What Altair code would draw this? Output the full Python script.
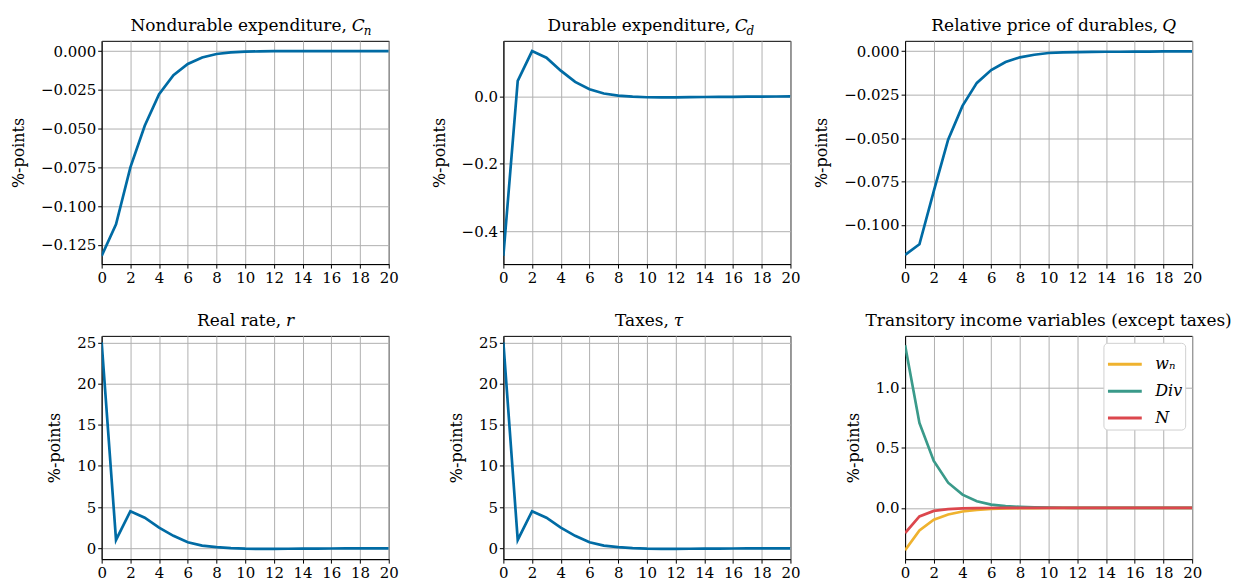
import altair as alt
import pandas as pd

# ---------------- data ----------------
t = list(range(21))

cn = [-0.1321, -0.1117, -0.0750, -0.0482, -0.0278, -0.0156, -0.0083, -0.0041,
      -0.0019, -0.0009, -0.0004, -0.0002, -0.0001, -0.0001, 0.0, 0.0, 0.0,
      0.0, 0.0, 0.0, 0.0]

cd = [-0.4727, 0.0452, 0.1337, 0.1140, 0.0757, 0.0423, 0.0206, 0.0079,
      0.0020, -0.0010, -0.0030, -0.0032, -0.0032, -0.0028, -0.0024, -0.0020,
      -0.0017, -0.0014, -0.0011, -0.0008, -0.0006]

q = [-0.1172, -0.1111, -0.0805, -0.0510, -0.0315, -0.0183, -0.0109, -0.0063,
     -0.0036, -0.0021, -0.0011, -0.0008, -0.0006, -0.0005, -0.0004, -0.0004,
     -0.0003, -0.0003, -0.0002, -0.0002, -0.0002]

r = [25.0, 1.0, 4.5, 3.7, 2.5, 1.5, 0.72, 0.32, 0.12, 0.0, -0.06, -0.08,
     -0.08, -0.07, -0.06, -0.05, -0.04, -0.03, -0.03, -0.02, -0.02]

tau = [25.0, 1.0, 4.5, 3.7, 2.5, 1.5, 0.72, 0.32, 0.12, 0.0, -0.06, -0.08,
       -0.08, -0.07, -0.06, -0.05, -0.04, -0.03, -0.03, -0.02, -0.02]

wn = [-0.352, -0.187, -0.099, -0.055, -0.030, -0.016, -0.009, -0.005, -0.003,
      -0.0015, -0.0008, -0.0004, -0.0002, -0.0001, 0.0, 0.0, 0.0, 0.0, 0.0,
      0.0, 0.0]
div = [1.352, 0.706, 0.390, 0.209, 0.110, 0.055, 0.027, 0.014, 0.008, 0.004,
       0.002, 0.001, 0.0005, 0.0002, 0.0001, 0.0, 0.0, 0.0, 0.0, 0.0, 0.0]
n_ = [-0.209, -0.071, -0.025, -0.011, -0.005, -0.002, -0.001, -0.0005,
      -0.0002, -0.0001, 0.0, 0.0, 0.0, 0.0, 0.0, 0.0, 0.0, 0.0, 0.0, 0.0, 0.0]

series_names = ["wₙ", "Div", "N"]
series_colors = ["#EFB22E", "#3A9A8A", "#DC474D"]

x_ticks = list(range(0, 21, 2))

FONT = "DejaVu Serif"
BLUE = "#006BA4"
W, H = 288, 224
TITLE_SIZE = 17
SUB_SIZE = 12


def title_marks(parts):
    marks = []
    for text, x, y, size, style, align in parts:
        marks.append(
            alt.Chart(pd.DataFrame({"s": [text]}))
            .mark_text(align=align, baseline="alphabetic", font=FONT,
                       fontSize=size, fontStyle=style, color="black")
            .encode(text="s:N", x=alt.value(x), y=alt.value(y))
        )
    return marks


def x_enc():
    return alt.X("t:Q", scale=alt.Scale(domain=[0, 20], nice=False, zero=False),
                 axis=alt.Axis(values=x_ticks, format="d", title=None,
                               labelFlush=False, labelOverlap=False))


def y_enc(domain, ticks, fmt):
    return alt.Y("v:Q", scale=alt.Scale(domain=domain, nice=False, zero=False),
                 axis=alt.Axis(values=ticks, format=fmt, title="%-points",
                               labelFlush=False))


def panel(values, domain, ticks, fmt, parts):
    df = pd.DataFrame({"t": t, "v": values})
    line = alt.Chart(df).mark_line(color=BLUE, strokeWidth=2.7, clip=True).encode(
        x=x_enc(), y=y_enc(domain, ticks, fmt))
    return alt.layer(line, *title_marks(parts)).properties(width=W, height=H)


p1 = panel(cn, [-0.1374, 0.0066], [-0.125, -0.1, -0.075, -0.05, -0.025, 0.0], ".3f",
           [("Nondurable expenditure,", 246, -10, TITLE_SIZE, "normal", "right"),
            ("C", 251, -10, TITLE_SIZE, "italic", "left"),
            ("n", 263, -6, SUB_SIZE, "italic", "left")])
p2 = panel(cd, [-0.497, 0.164], [-0.4, -0.2, 0.0], ".1f",
           [("Durable expenditure,", 228, -10, TITLE_SIZE, "normal", "right"),
            ("C", 232, -10, TITLE_SIZE, "italic", "left"),
            ("d", 244, -6, SUB_SIZE, "italic", "left")])
p3 = panel(q, [-0.1225, 0.0059], [-0.1, -0.075, -0.05, -0.025, 0.0], ".3f",
           [("Relative price of durables,", 254, -10, TITLE_SIZE, "normal", "right"),
            ("Q", 258, -10, TITLE_SIZE, "italic", "left")])
p4 = panel(r, [-1.33, 25.8], [0, 5, 10, 15, 20, 25], "d",
           [("Real rate,", 180, -10, TITLE_SIZE, "normal", "right"),
            ("r", 185, -10, TITLE_SIZE, "italic", "left")])
p5 = panel(tau, [-1.33, 25.8], [0, 5, 10, 15, 20, 25], "d",
           [("Taxes,", 166, -10, TITLE_SIZE, "normal", "right"),
            ("τ", 171, -10, TITLE_SIZE, "italic", "left")])

long = pd.DataFrame({
    "t": t * 3,
    "v": wn + div + n_,
    "s": [series_names[0]] * 21 + [series_names[1]] * 21 + [series_names[2]] * 21,
})
lines6 = alt.Chart(long).mark_line(strokeWidth=2.7, clip=True).encode(
    x=x_enc(),
    y=y_enc([-0.426, 1.429], [0.0, 0.5, 1.0], ".1f"),
    color=alt.Color("s:N", scale=alt.Scale(domain=series_names, range=series_colors),
                    legend=alt.Legend(title=None, orient="top-right", offset=7,
                                      fillColor="white", strokeColor="#d0d0d0",
                                      cornerRadius=4, padding=3,
                                      symbolType="stroke", symbolStrokeWidth=3,
                                      symbolSize=1150, labelFont=FONT,
                                      labelFontSize=16, labelFontStyle="italic",
                                      labelColor="black", rowPadding=-8,
                                      labelOffset=12)),
)
p6 = alt.layer(lines6, *title_marks(
    [("Transitory income variables (except taxes)", 144, -10, TITLE_SIZE, "normal", "center")]
)).properties(width=W, height=H)

chart = alt.concat(p1, p2, p3, p4, p5, p6, columns=3,
                   spacing={"row": 72, "column": 115}, bounds="flush").resolve_scale(
    color="independent").resolve_legend(color="independent").configure_axis(
    labelFont=FONT, labelFontSize=15, labelColor="black",
    titleFont=FONT, titleFontSize=16, titleFontWeight="normal", titleColor="black",
    domainColor="black", tickColor="black", tickSize=4, labelPadding=2,
    titlePadding=14, gridColor="#b0b0b0", gridWidth=1,
).configure_view(stroke="black", strokeWidth=1).properties(
    padding={"left": 9, "top": 15, "right": 5, "bottom": 5}
)

chart.save("out.html", embed_options={"renderer": "svg", "actions": False})
